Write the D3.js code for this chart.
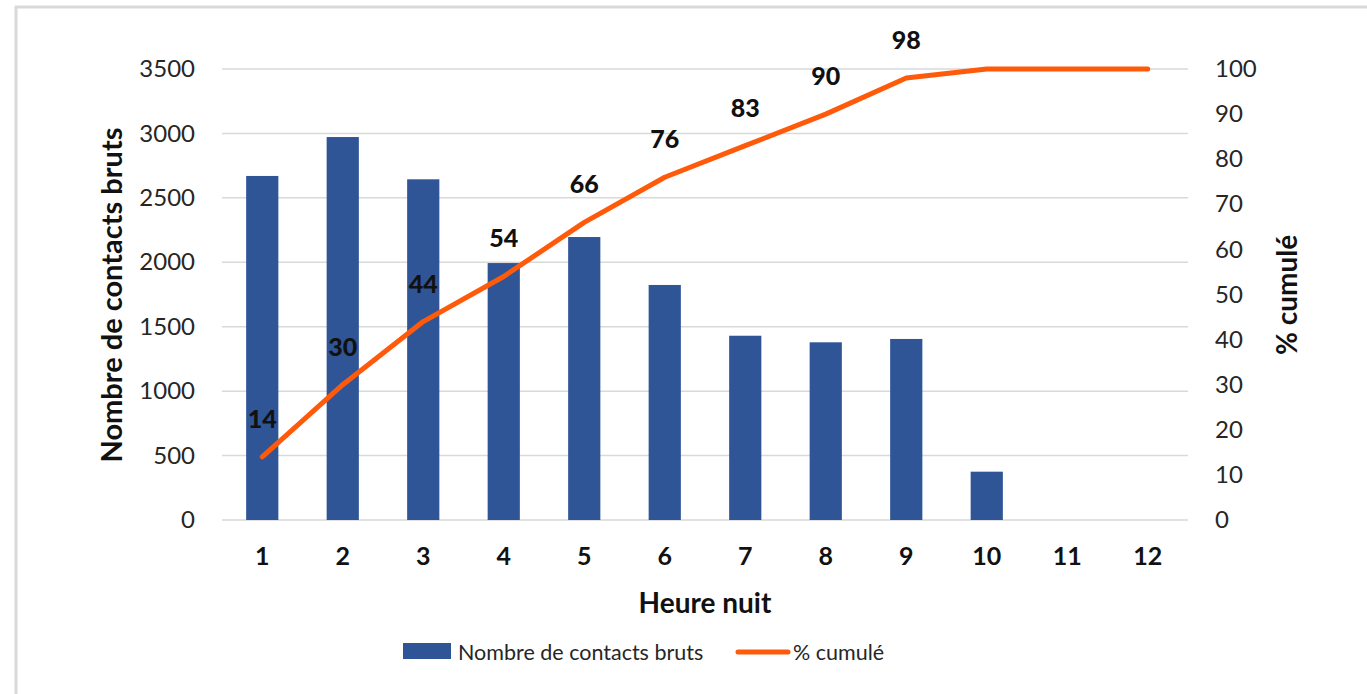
<!DOCTYPE html>
<html>
<head>
<meta charset="utf-8">
<script src="https://cdn.jsdelivr.net/npm/d3@7"></script>
<style>
  body { margin: 0; background: #fff; }
  svg { display: block; font-family: Lato, "Open Sans", sans-serif; }
</style>
</head>
<body>
<div id="chart"></div>
<script>
// heures de nuit, contacts bruts et % cumulé
const heures = ["1", "2", "3", "4", "5", "6", "7", "8", "9", "10", "11", "12"];
const contacts = [2670, 2972, 2644, 1994, 2196, 1824, 1430, 1379, 1405, 375, 0, 0];
const cumul = [14, 30, 44, 54, 66, 76, 83, 90, 98, 100, 100, 100];
const cumulLabels = ["14", "30", "44", "54", "66", "76", "83", "90", "98", null, null, null];
const leftTicks = [0, 500, 1000, 1500, 2000, 2500, 3000, 3500];
const rightTicks = [0, 10, 20, 30, 40, 50, 60, 70, 80, 90, 100];

const width = 1367, height = 694;
const margin = { top: 69, right: 179, bottom: 174, left: 222 };

const blue = "#2f5597", orange = "#ff5a0a";

const svg = d3.select("#chart").append("svg")
    .attr("width", width)
    .attr("height", height)
    .attr("viewBox", [0, 0, width, height]);

// frame (left + top edge only visible)
svg.append("line").attr("x1", 16).attr("x2", 16).attr("y1", 6).attr("y2", height)
    .attr("stroke", "#d9d9d9").attr("stroke-width", 3);
svg.append("line").attr("x1", 15).attr("x2", width).attr("y1", 7).attr("y2", 7)
    .attr("stroke", "#d9d9d9").attr("stroke-width", 3);

const x = d3.scaleBand()
    .domain(heures)
    .range([margin.left, width - margin.right])
    .paddingInner(0.6)
    .paddingOuter(0.3);

const y = d3.scaleLinear().domain([0, 3500]).range([height - margin.bottom, margin.top]);
const y2 = d3.scaleLinear().domain([0, 100]).range([height - margin.bottom, margin.top]);

// gridlines
svg.append("g")
    .selectAll("line")
    .data(leftTicks)
    .join("line")
        .attr("x1", margin.left)
        .attr("x2", width - margin.right)
        .attr("y1", d => y(d))
        .attr("y2", d => y(d))
        .attr("stroke", "#d9d9d9")
        .attr("stroke-width", 1.5);

// left axis
const yAxis = svg.append("g")
    .attr("transform", `translate(${margin.left},0)`)
    .call(d3.axisLeft(y).tickValues(leftTicks).tickFormat(d3.format("d")).tickSize(0).tickPadding(27));
yAxis.select(".domain").remove();
yAxis.selectAll("text").attr("font-size", 24).attr("fill", "#262626").attr("font-family", "Lato, sans-serif");

// right axis
const y2Axis = svg.append("g")
    .attr("transform", `translate(${width - margin.right},0)`)
    .call(d3.axisRight(y2).tickValues(rightTicks).tickSize(0).tickPadding(27));
y2Axis.select(".domain").remove();
y2Axis.selectAll("text").attr("font-size", 24).attr("fill", "#262626").attr("font-family", "Lato, sans-serif");

// x axis
const xAxis = svg.append("g")
    .attr("transform", `translate(0,${height - margin.bottom})`)
    .call(d3.axisBottom(x).tickSize(0).tickPadding(27));
xAxis.select(".domain").remove();
xAxis.selectAll("text").attr("font-size", 25).attr("font-weight", "bold").attr("fill", "#111").attr("font-family", "Lato, sans-serif");

// bars
svg.append("g")
    .selectAll("rect")
    .data(heures)
    .join("rect")
        .attr("x", d => x(d))
        .attr("y", (d, i) => y(contacts[i]))
        .attr("width", x.bandwidth())
        .attr("height", (d, i) => y(0) - y(contacts[i]))
        .attr("fill", blue);

// cumulative line
const line = d3.line()
    .x((d, i) => x(heures[i]) + x.bandwidth() / 2)
    .y(d => y2(d));

svg.append("path")
    .datum(cumul)
    .attr("fill", "none")
    .attr("stroke", orange)
    .attr("stroke-width", 5)
    .attr("stroke-linecap", "round")
    .attr("stroke-linejoin", "round")
    .attr("d", line);

// data labels
svg.append("g")
    .selectAll("text")
    .data(cumulLabels)
    .join("text")
        .filter(d => d !== null)
        .attr("x", (d, i) => x(heures[i]) + x.bandwidth() / 2)
        .attr("y", (d, i) => y2(cumul[i]) - 29)
        .attr("text-anchor", "middle")
        .attr("font-size", 25)
        .attr("font-weight", 900)
        .attr("fill", "#111")
        .text(d => d);

// axis titles
svg.append("text")
    .attr("transform", `translate(122,295) rotate(-90)`)
    .attr("text-anchor", "middle")
    .attr("font-size", 29)
    .attr("font-weight", "bold")
    .attr("fill", "#111")
    .text("Nombre de contacts bruts");

svg.append("text")
    .attr("transform", `translate(1297,295) rotate(-90)`)
    .attr("text-anchor", "middle")
    .attr("font-size", 28)
    .attr("font-weight", "bold")
    .attr("fill", "#111")
    .text("% cumulé");

svg.append("text")
    .attr("x", (margin.left + width - margin.right) / 2)
    .attr("y", 613)
    .attr("text-anchor", "middle")
    .attr("font-size", 28)
    .attr("font-weight", "bold")
    .attr("fill", "#111")
    .text("Heure nuit");

// legend
const legend = svg.append("g");
legend.append("rect")
    .attr("x", 403).attr("y", 643).attr("width", 48).attr("height", 16)
    .attr("fill", blue);
legend.append("text")
    .attr("x", 458).attr("y", 660)
    .attr("font-size", 21.5).attr("fill", "#262626")
    .text("Nombre de contacts bruts");
legend.append("line")
    .attr("x1", 738).attr("x2", 788).attr("y1", 652).attr("y2", 652)
    .attr("stroke", orange).attr("stroke-width", 5).attr("stroke-linecap", "round");
legend.append("text")
    .attr("x", 793).attr("y", 660)
    .attr("font-size", 21.5).attr("fill", "#262626")
    .text("% cumulé");
</script>
</body>
</html>
